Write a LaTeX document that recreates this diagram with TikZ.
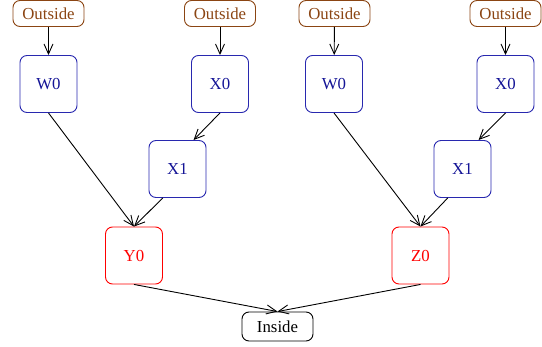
\documentclass[tikz,border=0pt]{standalone}
\usepackage{fontspec}
\setmainfont{Liberation Serif}
\usetikzlibrary{arrows.meta}

\definecolor{boxblue}{RGB}{40,40,175}
\definecolor{txtblue}{RGB}{20,20,150}
\definecolor{outbrown}{RGB}{139,69,19}

\begin{document}
\begin{tikzpicture}[x=1pt,y=-1pt,line width=0.9pt,
        every node/.style={font=\fontsize{16.8}{18}\selectfont,rounded corners=7pt,inner sep=0pt},
        outer/.style={draw=outbrown,text=outbrown,minimum width=71pt,minimum height=26pt},
        var/.style={draw=boxblue,text=txtblue,minimum size=57pt},
        res/.style={draw=red,text=red,minimum size=57pt},
        sink/.style={draw=black,minimum width=71pt,minimum height=29pt},
        >={Straight Barb[length=10pt,width=9pt]}]
                \useasboundingbox (0,0) rectangle (542,347);

                \node[outer] (o1) at (48.5,13.5) {Outside};
                \node[outer] (o2) at (220,13.5) {Outside};
                \node[outer] (o3) at (334.5,13.5) {Outside};
                \node[outer] (o4) at (505.5,13.5) {Outside};

                \node[var] (w0a) at (48.5,84) {W0};
                \node[var] (x0a) at (220,84) {X0};
                \node[var] (x1a) at (177.5,169) {X1};
                \node[res] (y0) at (134,255.5) {Y0};

                \node[var] (w0b) at (334,84) {W0};
                \node[var] (x0b) at (505.5,84) {X0};
                \node[var] (x1b) at (462.5,169) {X1};
                \node[res] (z0) at (420.5,255.5) {Z0};

                \node[sink] (in) at (277.5,326.5) {Inside};

                \path[draw,->] (o1) -- (w0a);
                \path[draw,->] (o2) -- (x0a);
                \path[draw,->] (x0a.south) -- (x1a.61);
                \path[draw,->] (w0a.south) -- (y0.north);
                \path[draw,->] (x1a.-117) -- (y0.north);

                \path[draw,->] (o3) -- (w0b);
                \path[draw,->] (o4) -- (x0b);
                \path[draw,->] (x0b.south) -- (x1b.61);
                \path[draw,->] (w0b.south) -- (z0.north);
                \path[draw,->] (x1b.-117) -- (z0.north);

                \path[draw,->] (y0.south) -- (in.north);
                \path[draw,->] (z0.south) -- (in.north);

            \end{tikzpicture}
\end{document}
